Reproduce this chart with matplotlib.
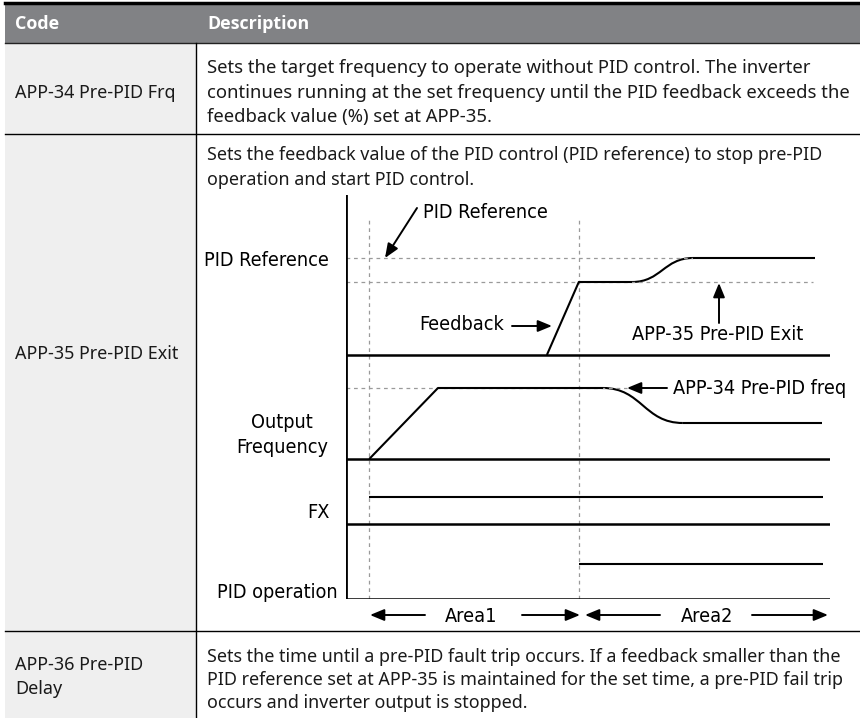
import matplotlib
matplotlib.use("Agg")
import matplotlib.pyplot as plt
from matplotlib import font_manager
from matplotlib.path import Path
from matplotlib.patches import PathPatch

# table content
header = ["Code", "Description"]
codes = ["APP-34 Pre-PID Frq", "APP-35 Pre-PID Exit", "APP-36 Pre-PID\nDelay"]
desc_row1 = ["Sets the target frequency to operate without PID control. The inverter",
             "continues running at the set frequency until the PID feedback exceeds the",
             "feedback value (%) set at APP-35."]
desc_row2 = ["Sets the feedback value of the PID control (PID reference) to stop pre-PID",
             "operation and start PID control."]
desc_row3 = ["Sets the time until a pre-PID fault trip occurs. If a feedback smaller than the",
             "PID reference set at APP-35 is maintained for the set time, a pre-PID fail trip",
             "occurs and inverter output is stopped."]

# timing diagram (time in s, level in diagram units above the bottom line)
lane_names = ["PID Reference", "Output\nFrequency", "FX", "PID operation"]
lane_base = [244, 140, 75, 0]
t_run = 0.48     # run command (start of Area1)
t_pid = 4.81     # PID control starts (start of Area2)
t_end = 10.0

fb_t = [4.15, 4.81, 5.91]
fb_v = [244, 317, 317]
fb_curve_end = (7.17, 341)
fb_tail_t = [7.17, 9.69]
pid_ref_level = 341
pre_exit_level = 317

out_t = [0.48, 1.90, 5.31]
out_v = [140, 211, 211]
out_curve_end = (6.96, 176)
out_tail_t = [6.96, 9.83]
pre_freq_level = 211

fx_t = [0.48, 9.85]
fx_v = [102, 102]
pidop_t = [4.81, 9.85]
pidop_v = [35, 35]

fonts = font_manager.fontManager.ttflist
names = {f.name for f in fonts}
body_font = "Noto Sans" if "Noto Sans" in names else "DejaVu Sans"
bold_font = body_font
for fam in ["Noto Sans", "Open Sans", "Lato", "Roboto", "DejaVu Sans"]:
    if any(f.name == fam and f.weight in (600, 700, "bold", "semibold") for f in fonts):
        bold_font = fam
        break
if "Liberation Sans Narrow" in names:
    diag_font = dict(family="Liberation Sans Narrow")
else:
    diag_font = dict(family="DejaVu Sans", stretch="condensed")

W, H = 860, 718
fig = plt.figure(figsize=(W / 100, H / 100), dpi=100)
ax = fig.add_axes([0, 0, 1, 1])
ax.set_xlim(0, W)
ax.set_ylim(H, 0)
ax.axis("off")

# table frame
left, div, right = 5, 196, 860
top, head_bot, r1, r2 = 3, 43, 134, 631
ax.fill_between([left, right], top, head_bot, color="#818285", lw=0)
ax.fill_between([left, div], head_bot, H, color="#efefef", lw=0)
ax.plot([left, right], [top, top], color="black", lw=2.5)
ax.plot([left, right], [head_bot, head_bot], color="#222222", lw=1)
for y in [r1, r2]:
    ax.plot([left, right], [y, y], color="black", lw=1)
ax.plot([div, div], [head_bot, H], color="black", lw=1)

fs = 12.9
txt = dict(family=body_font, va="center", color="#1a1a1a")
ax.text(15, 24, header[0], color="white", fontsize=fs, fontweight="bold", family=bold_font, va="center")
ax.text(207, 24, header[1], color="white", fontsize=fs, fontweight="bold", family=bold_font, va="center")

ax.text(15, 93, codes[0], fontsize=fs, **txt)
ax.text(15, 354, codes[1], fontsize=fs, **txt)
ax.text(15, 677, codes[2], fontsize=fs, linespacing=1.45, **txt)

for i, line in enumerate(desc_row1):
    ax.text(207, 68 + 24.5 * i, line, fontsize=13.3, **txt)
for i, line in enumerate(desc_row2):
    ax.text(207, 155 + 25 * i, line, fontsize=fs, **txt)
for i, line in enumerate(desc_row3):
    ax.text(207, 657 + 23 * i, line, fontsize=fs, **txt)

# timing diagram axes
x0, x1, y_top, y_bot = 346, 830, 195, 599
dax = fig.add_axes([x0 / W, 1 - y_bot / H, (x1 - x0) / W, (y_bot - y_top) / H])
dax.set_xlim(0, t_end)
dax.set_ylim(0, y_bot - y_top)
dax.axis("off")

dash = dict(color="#9a9a9a", lw=0.9, ls=(0, (3, 3)))
dax.plot([t_run, t_run], [0, 382], **dash)
dax.plot([t_pid, t_pid], [0, 382], **dash)
dax.plot([0, fb_curve_end[0]], [pid_ref_level] * 2, **dash)
dax.plot([0, 9.65], [pre_exit_level] * 2, **dash)
dax.plot([0, 5.8], [pre_freq_level] * 2, **dash)

dax.plot([0, 0], [0, y_bot - y_top], color="black", lw=2)
for b in lane_base:
    dax.plot([0, t_end], [b, b], color="black", lw=1.8)

sig = dict(color="black", lw=1.5, solid_capstyle="butt")
dax.plot(fb_t, fb_v, **sig)
x_a, y_a = fb_t[-1], fb_v[-1]
xe, ye = fb_curve_end
verts = [(x_a, y_a), (x_a + 0.6, y_a), (xe - 0.6, ye), (xe, ye)]
dax.add_patch(PathPatch(Path(verts, [Path.MOVETO, Path.CURVE4, Path.CURVE4, Path.CURVE4]),
                        fill=False, lw=1.5, ec="black"))
dax.plot(fb_tail_t, [pid_ref_level] * 2, **sig)

dax.plot(out_t, out_v, **sig)
x_a, y_a = out_t[-1], out_v[-1]
xe, ye = out_curve_end
verts = [(x_a, y_a), (x_a + 0.8, y_a), (xe - 0.8, ye), (xe, ye)]
dax.add_patch(PathPatch(Path(verts, [Path.MOVETO, Path.CURVE4, Path.CURVE4, Path.CURVE4]),
                        fill=False, lw=1.5, ec="black"))
dax.plot(out_tail_t, [out_curve_end[1]] * 2, **sig)

dax.plot(fx_t, fx_v, **sig)
dax.plot(pidop_t, pidop_v, **sig)

# lane labels
lab = dict(fontsize=14.2, color="black", **diag_font)
ax.text(329, 261, lane_names[0], ha="right", va="center", **lab)
ax.text(282, 435, lane_names[1], ha="center", va="center", linespacing=1.35, **lab)
ax.text(330, 512, lane_names[2], ha="right", va="center", **lab)
ax.text(338, 592, lane_names[3], ha="right", va="center", **lab)

arw = dict(arrowstyle="-|>,head_length=0.85,head_width=0.35", color="black", lw=1.4,
           shrinkA=0, shrinkB=0)
ax.annotate("", xy=(385, 258), xytext=(417, 208), arrowprops=arw)
ax.text(423, 212, "PID Reference", ha="left", va="center", **lab)
ax.text(419, 325, "Feedback", ha="left", va="center", **lab)
ax.annotate("", xy=(552, 326), xytext=(512, 326), arrowprops=arw)
ax.text(718, 335, "APP-35 Pre-PID Exit", ha="center", va="center", **lab)
ax.annotate("", xy=(719, 283), xytext=(719, 323), arrowprops=arw)
ax.text(673, 388, "APP-34 Pre-PID freq", ha="left", va="center", **lab)
ax.annotate("", xy=(627, 388), xytext=(667, 388), arrowprops=arw)

ax.text(471, 616, "Area1", ha="center", va="center", **lab)
ax.text(707, 616, "Area2", ha="center", va="center", **lab)
for a, b in [(425, 370), (522, 580), (660, 585), (752, 828)]:
    ax.annotate("", xy=(b, 615), xytext=(a, 615), arrowprops=arw)

fig.savefig("out.png", dpi=100)
